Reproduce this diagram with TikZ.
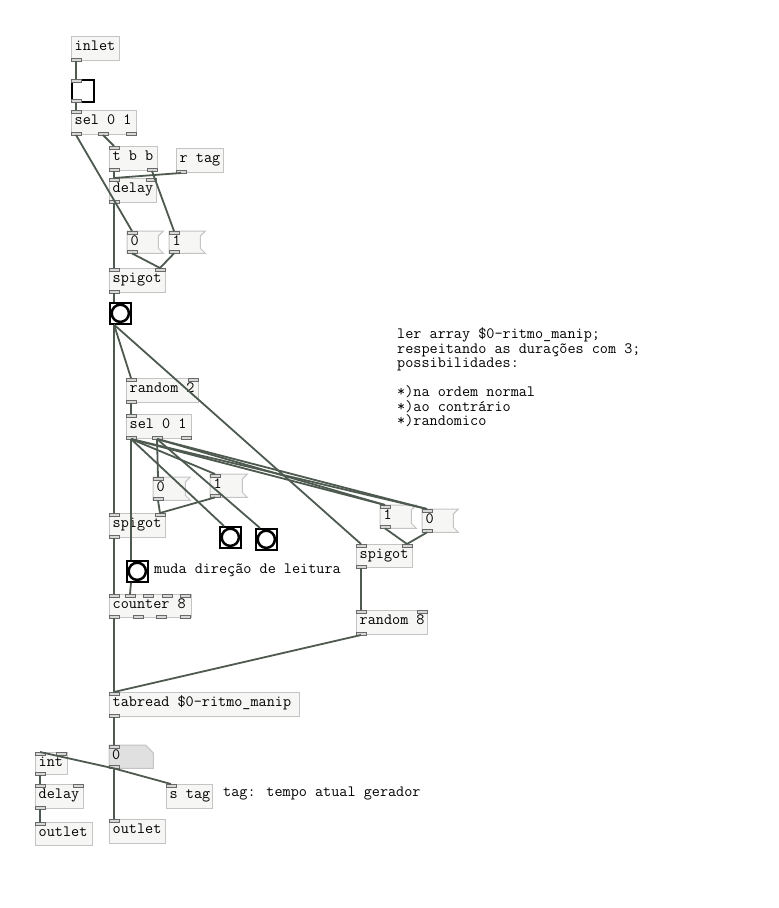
\documentclass[tikz,border=0pt]{standalone}
\usepackage{fontspec}
\usetikzlibrary{calc}
\definecolor{wirec}{RGB}{78,90,80}
\definecolor{boxc}{RGB}{196,196,196}
\definecolor{fillc}{RGB}{246,246,244}
\definecolor{portd}{RGB}{105,105,105}
\definecolor{portf}{RGB}{215,215,215}
\definecolor{numfill}{RGB}{224,224,224}
\tikzset{
 pdbox/.style={draw=boxc, fill=fillc, line width=1pt, rectangle, inner sep=0pt, anchor=north west},
 msgbody/.style={rectangle, inner sep=0pt, anchor=north west},
 msgshape/.style={draw=boxc, fill=fillc, line width=1pt},
 numshape/.style={draw=boxc, fill=numfill, line width=1pt},
 pdport/.style={draw=portd, fill=portf, line width=0.6pt},
 pdtext/.style={font=\ttfamily\fontsize{15.75}{14.6}\selectfont, inner sep=0pt, anchor=base west},
 wire/.style={draw=wirec, line width=1.8pt},
 bngbox/.style={draw=black, fill=white, line width=1.6pt, rectangle, inner sep=0pt, anchor=north west},
 bngcirc/.style={draw=black, line width=2.5pt},
}
\newcommand\pdobj[6]{\node[pdbox, minimum width=#4, minimum height=#5] (#1) at (#2,#3) {};
 \node[pdtext] (#1-t) at ($(#1.north west)+(3.5,14)$) {#6};}
\newcommand\pdmsg[6]{\node[msgbody, minimum width=#4, minimum height=#5] (#1) at (#2,#3) {};
 \draw[msgshape] (#1.north west) -- ($(#1.north east)+(5,0)$) -- ($(#1.north east)+(0,5)$) -- ($(#1.south east)+(0,-5)$) -- ($(#1.south east)+(5,0)$) -- (#1.south west) -- cycle;
 \node[pdtext] (#1-t) at ($(#1.north west)+(3.5,14)$) {#6};}
\newcommand\pdbng[3]{\node[bngbox, minimum width=21, minimum height=21] (#1) at (#2,#3) {};
 \draw[bngcirc] (#1.center) circle[radius=8.6pt];}
\newcommand\pin[2]{\draw[pdport] ($(#1.north west)+(#2,0)$) rectangle ++(10,3);}
\newcommand\pout[2]{\draw[pdport] ($(#1.south west)+(#2,-3)$) rectangle ++(10,3);}
\newcommand\wire[4]{\draw[wire] ($(#1.south west)+(#2+5,0)$) -- ($(#3.north west)+(#4+5,0)$);}
\begin{document}
\begin{tikzpicture}[x=1pt,y=-1pt]
\fill[white] (0,0) rectangle (779,908);
\useasboundingbox (0,0) rectangle (779,908);

\pdobj{inlet}{71}{36}{48}{24}{inlet} \pout{inlet}{0}
\node[bngbox, minimum width=22, minimum height=22] (tgl) at (71,79) {}; \pin{tgl}{0} \pout{tgl}{0}
\pdobj{selA}{71}{110}{65}{24}{sel 0 1} \pin{selA}{0} \pout{selA}{0} \pout{selA}{27} \pout{selA}{55}
\pdobj{tbb}{109}{146}{48}{24}{t b b} \pin{tbb}{0} \pout{tbb}{0} \pout{tbb}{38}
\pdobj{rtag}{176}{148}{47}{24}{r tag} \pout{rtag}{0}
\pdobj{delayA}{109}{178}{47}{24}{delay} \pin{delayA}{0} \pin{delayA}{37} \pout{delayA}{0}
\pdmsg{msg0a}{127}{231}{31}{22}{0} \pin{msg0a}{0} \pout{msg0a}{0}
\pdmsg{msg1a}{169}{231}{31}{22}{1} \pin{msg1a}{0} \pout{msg1a}{0}
\pdobj{spigA}{109}{268}{56}{24}{spigot} \pin{spigA}{0} \pin{spigA}{46} \pout{spigA}{0}
\pdbng{bngA}{109}{302}
\pdobj{rand2}{126}{378}{72}{24}{random 2} \pin{rand2}{0} \pin{rand2}{62} \pout{rand2}{0}
\pdobj{selB}{126}{414}{65}{24}{sel 0 1} \pin{selB}{0} \pout{selB}{0} \pout{selB}{26} \pout{selB}{55}
\pdmsg{msg0b}{153}{477}{32}{23}{0} \pin{msg0b}{0} \pout{msg0b}{0}
\pdmsg{msg1b}{210}{474}{32}{23}{1} \pin{msg1b}{0} \pout{msg1b}{0}
\pdobj{spigB}{109}{513}{56}{24}{spigot} \pin{spigB}{0} \pin{spigB}{46} \pout{spigB}{0}
\pdbng{bngB}{219}{526}
\pdbng{bngC}{255}{528}
\pdmsg{msg1c}{380}{505}{31}{23}{1} \pin{msg1c}{0} \pout{msg1c}{0}
\pdmsg{msg0c}{422}{509}{31}{23}{0} \pin{msg0c}{0} \pout{msg0c}{0}
\pdobj{spigC}{356}{544}{56}{23}{spigot} \pin{spigC}{0} \pin{spigC}{46} \pout{spigC}{0}
\pdbng{bngM}{126}{560}
\node[pdtext] (cmtM) at (154,573.5) {muda direção de leitura};
\pdobj{counter}{109}{594}{82}{23}{counter 8}
\pin{counter}{0} \pin{counter}{16} \pin{counter}{34} \pin{counter}{53} \pin{counter}{71}
\pout{counter}{0} \pout{counter}{24} \pout{counter}{47} \pout{counter}{71}
\pdobj{rand8}{356}{610}{71}{24}{random 8} \pin{rand8}{0} \pin{rand8}{61} \pout{rand8}{0}
\pdobj{tabread}{109}{692}{190}{24}{tabread \$0-ritmo\_manip} \pin{tabread}{0} \pout{tabread}{0}
\node[msgbody, minimum width=44, minimum height=23] (num) at (109,745) {};
\draw[numshape] (num.north west) -- ($(num.north east)+(-8,0)$) -- ($(num.north east)+(0,8)$) -- (num.south east) -- (num.south west) -- cycle;
\node[pdtext] (num-t) at ($(num.north west)+(3,14)$) {0};
\pin{num}{0} \pout{num}{0}
\pdobj{int}{35}{752}{32}{22}{int} \pin{int}{0} \pin{int}{21} \pout{int}{0}
\pdobj{delayB}{35}{784}{48}{24}{delay} \pin{delayB}{0} \pin{delayB}{38} \pout{delayB}{0}
\pdobj{outA}{35}{822}{57}{23}{outlet} \pin{outA}{0}
\pdobj{stag}{166}{784}{46}{24}{s tag} \pin{stag}{0}
\pdobj{outB}{109}{819}{56}{24}{outlet} \pin{outB}{0}
\node[pdtext] (cmtT) at (223,796) {tag: tempo atual gerador};

\node[pdtext] (c1) at (397,338.5) {ler array \$0-ritmo\_manip;};
\node[pdtext] (c2) at (397,353) {respeitando as durações com 3;};
\node[pdtext] (c3) at (397,367.5) {possibilidades:};
\node[pdtext] (c4) at (397,396.5) {*)na ordem normal};
\node[pdtext] (c5) at (397,411) {*)ao contrário};
\node[pdtext] (c6) at (397,425.5) {*)randomico};

% wires
\wire{inlet}{0}{tgl}{0}
\wire{tgl}{0}{selA}{0}
\wire{selA}{0}{msg0a}{0}
\wire{selA}{27}{tbb}{0}
\wire{tbb}{0}{delayA}{0}
\wire{tbb}{38}{msg1a}{0}
\wire{rtag}{0}{delayA}{0}
\wire{delayA}{0}{spigA}{0}
\wire{msg0a}{0}{spigA}{46}
\wire{msg1a}{0}{spigA}{46}
\wire{spigA}{0}{bngA}{0}
\wire{bngA}{0}{rand2}{0}
\wire{bngA}{0}{spigB}{0}
\wire{bngA}{0}{spigC}{0}
\wire{rand2}{0}{selB}{0}
\wire{selB}{0}{bngM}{0}
\wire{selB}{0}{bngB}{0}
\wire{selB}{0}{msg1b}{0}
\wire{selB}{0}{msg1c}{0}
\wire{selB}{0}{msg0c}{0}
\wire{selB}{26}{msg0b}{0}
\wire{selB}{26}{bngC}{0}
\wire{selB}{26}{msg1c}{0}
\wire{selB}{26}{msg0c}{0}
\wire{msg0b}{0}{spigB}{46}
\wire{msg1b}{0}{spigB}{46}
\wire{msg1c}{0}{spigC}{46}
\wire{msg0c}{0}{spigC}{46}
\wire{spigB}{0}{counter}{0}
\wire{bngM}{0}{counter}{16}
\wire{counter}{0}{tabread}{0}
\wire{spigC}{0}{rand8}{0}
\wire{rand8}{0}{tabread}{0}
\wire{tabread}{0}{num}{0}
\wire{num}{0}{outB}{0}
\wire{num}{0}{int}{0}
\wire{num}{0}{stag}{0}
\wire{int}{0}{delayB}{0}
\wire{delayB}{0}{outA}{0}
\end{tikzpicture}
\end{document}
